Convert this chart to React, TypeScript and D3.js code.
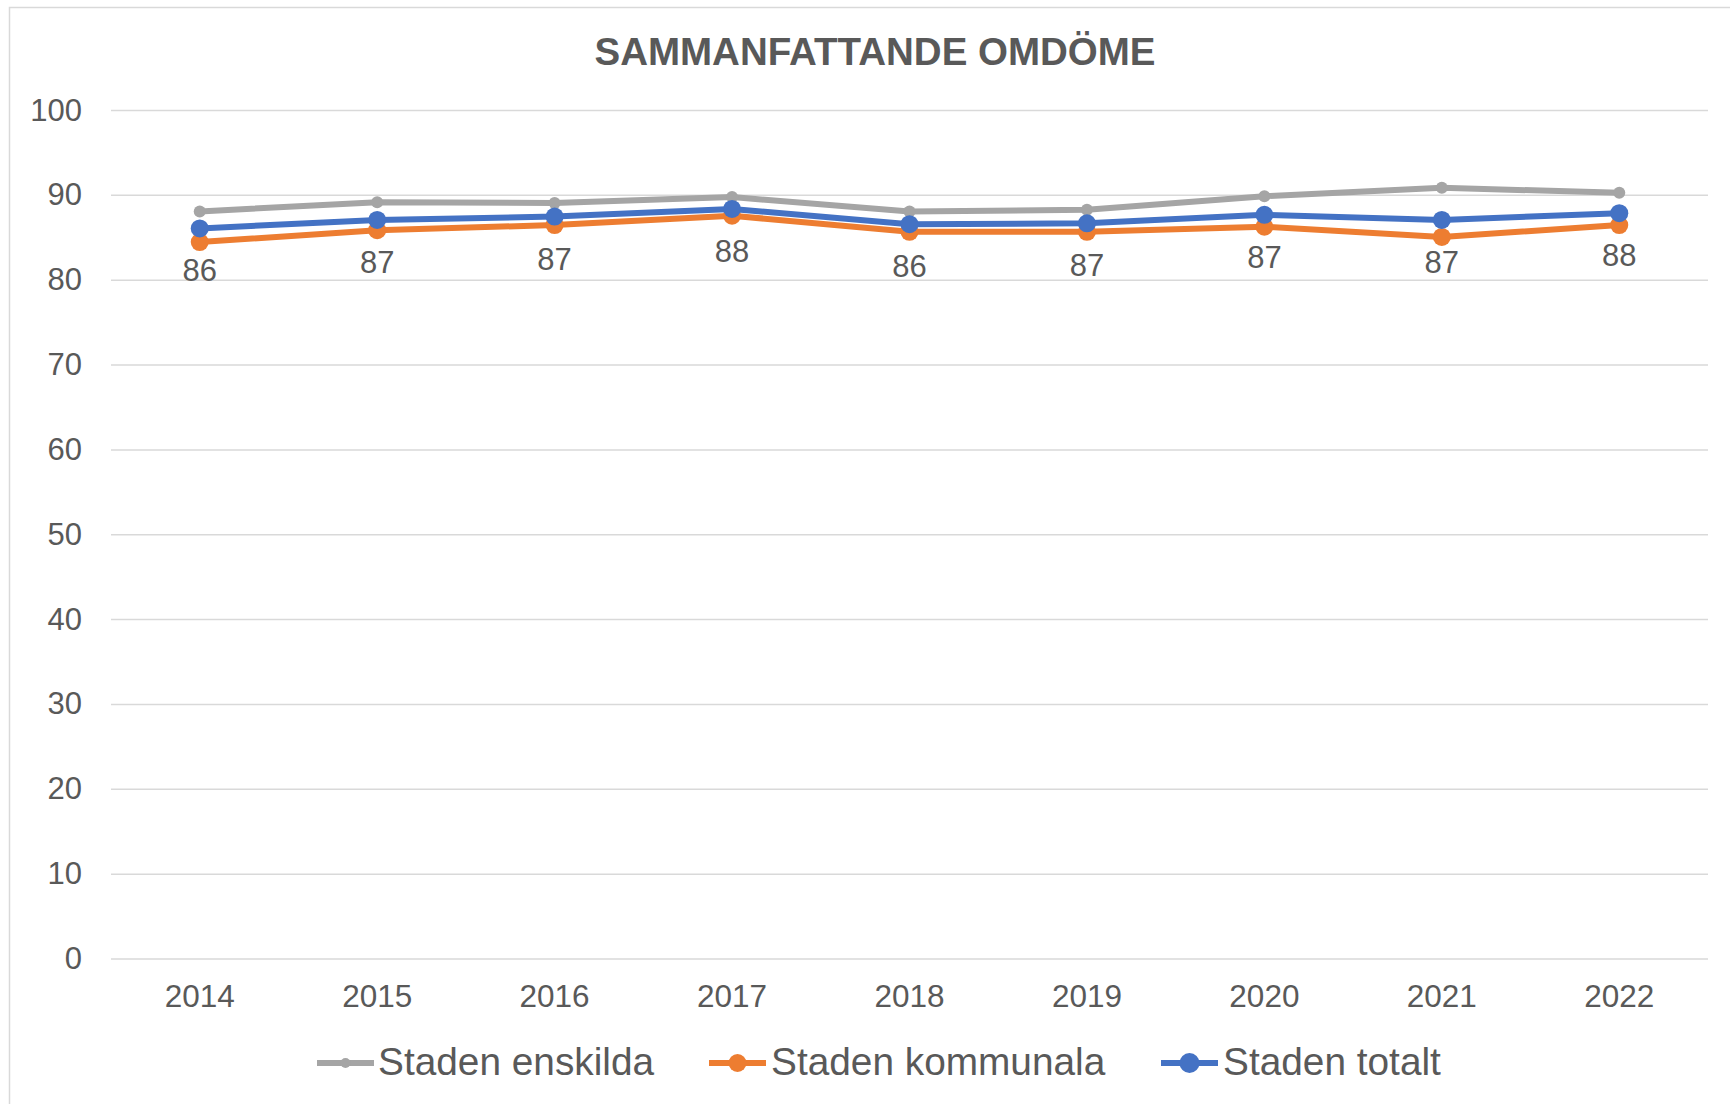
import React from 'react';
import * as d3 from 'd3';

const years = ['2014', '2015', '2016', '2017', '2018', '2019', '2020', '2021', '2022'];
const enskilda = [88.1, 89.2, 89.1, 89.8, 88.1, 88.3, 89.9, 90.9, 90.3];
const kommunala = [84.5, 85.9, 86.5, 87.6, 85.7, 85.7, 86.3, 85.1, 86.5];
const totalt = [86.1, 87.1, 87.5, 88.4, 86.6, 86.7, 87.7, 87.1, 87.9];
const totaltLabels = ['86', '87', '87', '88', '86', '87', '87', '87', '88'];
const yTicks = [0, 10, 20, 30, 40, 50, 60, 70, 80, 90, 100];

const series = [
  { name: 'Staden enskilda', values: enskilda, color: '#A5A5A5', r: 6, legendR: 5 },
  { name: 'Staden kommunala', values: kommunala, color: '#ED7D31', r: 9, legendR: 9 },
  { name: 'Staden totalt', values: totalt, color: '#4472C4', r: 9, legendR: 10 },
];

const width = 1730;
const height = 1104;
const marginLeft = 111;
const marginRight = 22;
const yTop = 110.5;
const yBottom = 959;
const textColor = '#595959';
const font = '"Liberation Sans", Arial, sans-serif';

export default function App() {
  const x = d3.scaleBand<string>()
    .domain(years)
    .range([marginLeft, width - marginRight]);

  const y = d3.scaleLinear()
    .domain([0, 100])
    .range([yBottom, yTop]);

  const cx = (yr: string) => (x(yr) ?? 0) + x.bandwidth() / 2;

  const line = d3.line<number>()
    .x((d, i) => cx(years[i]))
    .y(d => y(d));

  const legendItems = [
    { lineX: 317, textX: 378 },
    { lineX: 709, textX: 771 },
    { lineX: 1161, textX: 1223 },
  ];

  return (
    <svg
      width={width}
      height={height}
      style={{ position: 'absolute', left: 0, top: 0, background: '#fff' }}
      fontFamily={font}
    >
      <rect x={9.5} y={7.5} width={width + 20} height={height + 20} fill="#fff" stroke="#D9D9D9" strokeWidth={1.5} />

      <text x={875} y={65} textAnchor="middle" fontSize={38.5} fontWeight="bold" fill={textColor}>
        SAMMANFATTANDE OMDÖME
      </text>

      {/* grid + y labels */}
      {yTicks.map(t => (
        <g key={t}>
          <line x1={marginLeft} x2={width - marginRight} y1={y(t)} y2={y(t)} stroke="#D9D9D9" strokeWidth={1.5} />
          <text x={82} y={y(t) + 10} textAnchor="end" fontSize={31} fill={textColor}>{t}</text>
        </g>
      ))}

      {/* x labels */}
      {years.map(yr => (
        <text key={yr} x={cx(yr)} y={1007} textAnchor="middle" fontSize={31.5} fill={textColor}>{yr}</text>
      ))}

      {/* series */}
      {series.map(s => (
        <g key={s.name}>
          <path d={line(s.values) ?? ''} fill="none" stroke={s.color} strokeWidth={6} strokeLinejoin="round" />
          {s.values.map((v, i) => (
            <circle key={i} cx={cx(years[i])} cy={y(v)} r={s.r} fill={s.color} />
          ))}
        </g>
      ))}

      {/* data labels for Staden totalt */}
      {totalt.map((v, i) => (
        <text key={i} x={cx(years[i])} y={y(v) + 53} textAnchor="middle" fontSize={31} fill={textColor}>
          {totaltLabels[i]}
        </text>
      ))}

      {/* legend */}
      {series.map((s, i) => (
        <g key={s.name}>
          <line x1={legendItems[i].lineX} x2={legendItems[i].lineX + 57} y1={1063} y2={1063} stroke={s.color} strokeWidth={6} />
          <circle cx={legendItems[i].lineX + 28.5} cy={1063} r={s.legendR} fill={s.color} />
          <text x={legendItems[i].textX} y={1075} fontSize={38.8} fill={textColor}>{s.name}</text>
        </g>
      ))}
    </svg>
  );
}
